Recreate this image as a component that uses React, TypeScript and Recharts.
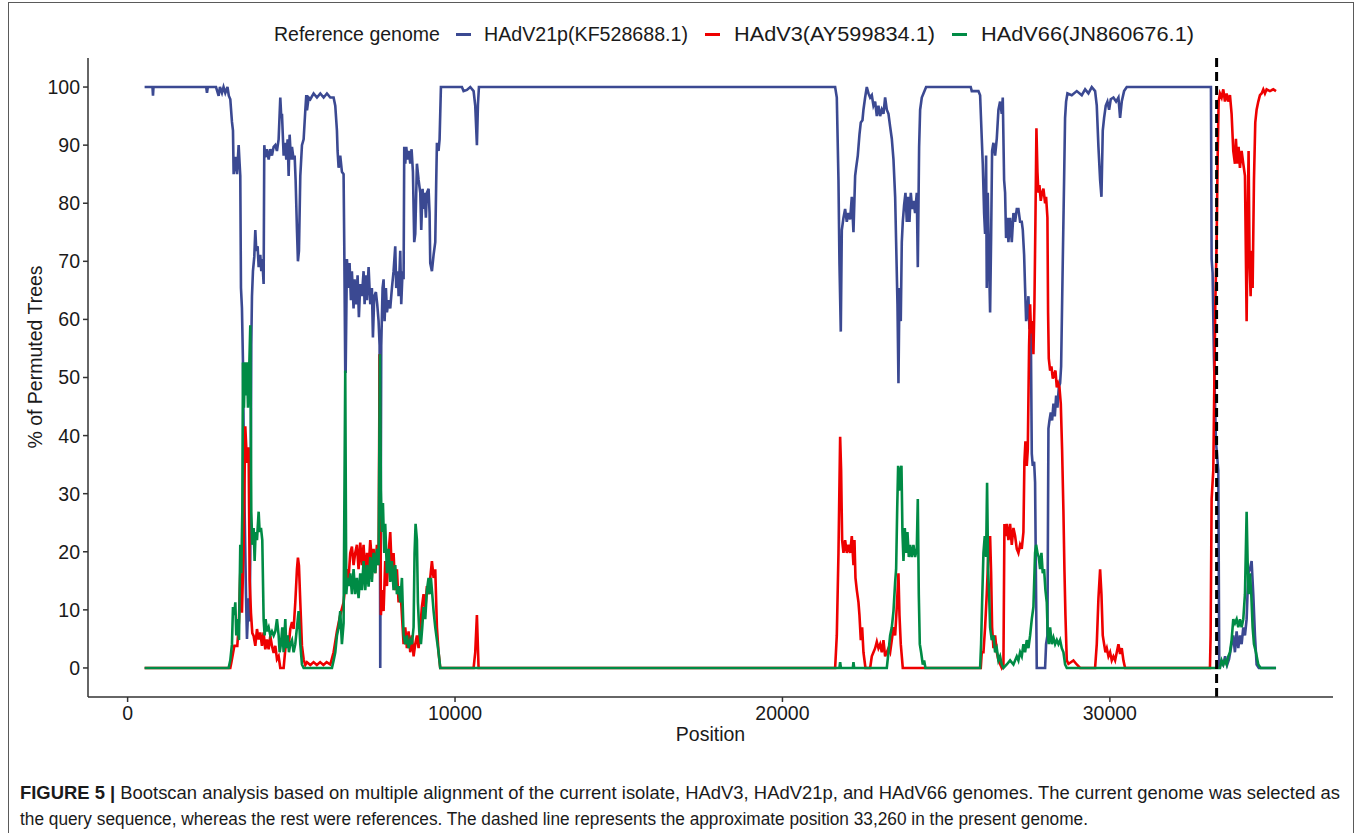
import React from "react";
import { LineChart, Line, XAxis, YAxis, ReferenceLine } from "recharts";

const blueX = [519,760,775,790,2400,2424,2450,2700,2780,2820,2882,2930,2984,3050,3090,3136,3187,3218,3238,3289,3340,3391,3421,3441,3462,3492,3523,3543,3574,3615,3645,3696,3727,3747,3767,3777,3798,3828,3869,3900,3930,3971,4002,4052,4083,4113,4154,4174,4205,4256,4307,4358,4409,4460,4510,4561,4612,4663,4694,4714,4745,4765,4816,4846,4887,4918,4948,4989,5020,5070,5101,5131,5172,5202,5233,5274,5325,5376,5427,5457,5478,5529,5580,5681,5783,5885,5987,6088,6190,6291,6342,6393,6413,6444,6494,6545,6596,6617,6647,6660,6698,6749,6779,6820,6850,6901,6932,6983,7024,7064,7105,7156,7207,7238,7278,7309,7360,7411,7461,7492,7533,7583,7624,7665,7696,7716,7746,7787,7818,7848,7889,7920,7970,8021,8072,8123,8174,8204,8255,8276,8327,8357,8398,8429,8449,8480,8510,8551,8591,8632,8673,8714,8754,8785,8836,8887,8938,8968,9009,9039,9070,9110,9141,9192,9222,9243,9294,9345,9396,9426,9447,9497,9528,9569,10210,10261,10363,10465,10567,10617,10668,10700,10730,21609,21660,21711,21741,21782,21813,21864,21914,21965,22016,22067,22118,22169,22220,22250,22301,22352,22393,22444,22474,22525,22576,22627,22678,22729,22780,22831,22882,22932,22983,23034,23085,23136,23187,23238,23289,23340,23391,23442,23472,23513,23543,23574,23614,23645,23675,23716,23757,23798,23838,23879,23920,23961,24001,24052,24103,24134,24174,24205,24256,24307,24388,25750,25782,25986,26037,26088,26118,26159,26189,26220,26240,26271,26301,26342,26373,26403,26444,26495,26546,26597,26647,26698,26729,26770,26800,26830,26871,26902,26953,27004,27055,27106,27157,27207,27258,27309,27340,27381,27411,27442,27482,27513,27543,27584,27615,27645,27686,27716,27767,28022,28052,28093,28124,28155,28195,28236,28277,28318,28359,28399,28440,28480,28511,28541,28571,28602,28632,28663,28704,28836,28989,29142,29244,29345,29447,29549,29600,29651,29702,29743,29783,29824,29875,29926,29977,30027,30109,30190,30262,30312,30363,30434,30516,33087,33108,33138,33179,33240,33311,33342,33400,33460,33520,33580,33640,33718,33769,33820,33871,33922,33973,34024,34075,34126,34177,34227,34278,34329,34380,34431,34482,34550,35075];
const blueY = [100,100,98.5,100,100,99,100,100,98.5,100,99,100,99,100,98.5,97.9,94,92.5,85,88,85,90,86.8,84.7,65.4,61.9,52.6,41.2,26.9,12.7,5,12,8,19.8,41,55.5,64,68.3,70.8,75.4,71.8,72.6,69,71.1,68.3,70.4,66.1,90,87.9,89.3,87.5,89.3,88.2,89.7,90,89,91,98.2,94.7,95.4,91,88.2,90.4,87.5,91,84.7,91.8,87.5,89.7,87.5,88.2,84,75.4,70,71.8,84.7,90,91,96,98.6,96,98.2,97.9,98.9,98.2,98.9,98.2,98.9,98.2,98.2,96.8,92.5,89,86.1,88.2,85.4,85,72.6,51,51,70.4,65.4,69.7,63.3,68.3,61.9,66.9,62.6,67.6,60.4,66.1,64,68.3,62.6,67.6,63.3,69,62.6,65.4,56.9,64,64.7,62.6,59.7,55.5,0,55.5,65.4,66.9,59.7,65.4,61.2,63.3,61.9,65.4,68.3,72.6,65.4,68.3,64,71.8,62.6,68.3,66.9,89.7,86.8,89.7,87.5,89,86.8,89.3,85.4,73.3,74.7,86.8,84,81.8,75.4,82.5,79,81.8,77.5,81.8,82.5,78.3,69.7,68.3,71.1,73.3,84,90.4,89,91,100,100,99.3,99.5,100,99.3,96.8,90,97,100,100,98.2,84,69.7,57.9,75.4,77.5,79,76.8,78.3,77.2,81.1,75,84.7,86.1,88.2,91.8,93.9,94.3,96.1,98.2,100,98.9,98.2,98.6,96.8,97.5,95,96.8,95,96.1,95.4,98.2,96.1,95.4,93.2,91.1,87.5,81.1,73.3,62.6,49,65.4,59.7,73.3,76.8,79.7,81.8,76.8,81.1,76.8,81.8,79,80.4,78.3,81.8,69,89.7,96.1,98.2,98.9,100,100,99.3,99.3,98.6,91.1,86.8,78.3,74.7,88.2,65.4,81.8,72.6,61.2,74,89,90.4,88.2,91.1,96.1,97.5,95.4,98.2,84,81.8,74,77.5,73.3,77.5,73.3,78.3,76.8,79,79,76.8,76.8,75.4,71.1,65.4,59.7,61.2,64,58.3,59.7,36.9,34.8,35.5,31.9,0,0,4.1,5.6,41.2,42.6,44,42.6,45.5,43.3,46.9,44.8,48.3,49,51.9,62.6,73.3,84,94.7,97.5,98.9,98.6,99.3,98.6,99.6,98.9,100,99.3,96.8,89.7,84,81.1,92.5,94.7,96.8,97.5,96.1,97.9,98.2,97.5,98.2,94.7,97.5,99.3,100,100,70.4,68,53.3,39,34,0,1,0.5,2,0.5,1.5,4.1,5.6,2.7,6.3,3.4,5.6,4.1,7,5.6,8.4,16.3,17,18.4,12.7,5.6,0.6,0,0];

const redX = [519,3136,3167,3260,3350,3400,3441,3492,3540,3594,3645,3696,3727,3767,3808,3849,3900,3951,4002,4052,4103,4154,4205,4256,4307,4358,4409,4460,4511,4562,4612,4663,4765,4816,4867,4918,4969,5020,5070,5121,5172,5202,5233,5274,5325,5376,5427,5478,5580,5680,5780,5880,5980,6080,6190,6291,6393,6494,6596,6647,6698,6749,6800,6851,6901,6952,7003,7054,7105,7156,7207,7258,7309,7360,7411,7461,7512,7563,7614,7665,7696,7736,7767,7818,7868,7920,7970,8021,8072,8123,8174,8225,8276,8327,8378,8429,8480,8530,8581,8632,8683,8734,8785,8836,8887,8938,8988,9039,9090,9141,9192,9243,9294,9345,9396,9447,9497,9548,10567,10617,10668,10719,21609,21660,21711,21762,21792,21823,21864,21914,21965,22016,22067,22118,22169,22200,22230,22271,22322,22352,22393,22434,22474,22535,22678,22729,22780,22831,22882,22932,22983,23034,23085,23136,23187,23238,23289,23340,23391,23442,23492,23543,23574,23614,23675,26057,26088,26139,26189,26240,26291,26342,26373,26403,26444,26495,26546,26597,26698,26749,26780,26820,26851,26902,26953,27004,27055,27106,27157,27207,27258,27309,27360,27390,27421,27462,27493,27533,27564,27594,27635,27665,27696,27726,27757,27788,27818,27849,27889,27930,27971,28022,28052,28093,28113,28134,28175,28215,28257,28297,28338,28379,28419,28460,28501,28541,28582,28612,28643,28684,28735,28786,28887,28989,29091,29549,29600,29651,29702,29743,29783,29824,29865,29906,29957,30007,30058,30109,30160,30211,30262,30312,30363,30414,30465,33057,33077,33108,33159,33189,33220,33261,33291,33322,33362,33413,33464,33515,33566,33617,33668,33718,33769,33820,33850,33891,33932,33973,34024,34075,34126,34177,34207,34237,34268,34299,34329,34360,34401,34441,34482,34533,34584,34635,34686,34736,34787,34889,34991,35075];
const redY = [0,0,0.9,3.8,3.8,8,16.4,9.5,20,41.6,35.3,38,15.2,9.5,6,5.5,3.8,6.7,4.9,6.1,3.8,6.1,3.2,4.9,3.2,5.5,3.8,2.6,3.8,1.5,2,0,0,3.2,5.5,3.8,6.7,7.9,6.7,11.3,17,19,17.6,11.3,3.8,1.5,0.5,1,0.5,1,0.5,1,0.5,1,0.6,2.7,6.3,9.1,11.3,14.1,17,15.5,19.8,20.9,17.7,19.8,21.2,17,21.6,17.7,21.2,15.5,19.8,17,22,18.4,20.5,16.3,21.2,17.7,54,9.1,13.4,9.8,18.4,14.1,19.8,23.4,16.3,19.8,13.4,17,11.3,14.1,9.1,4.1,7,3.4,6.3,2.7,5.6,2,4.1,5.6,3.4,7,10.5,12.7,9.8,14.1,12.7,15.5,18.4,15.5,17,7,2.7,0,0,2.7,9.1,0,0,5.6,19.8,39.8,34,22,19.8,22,19.8,21.2,19.8,22.7,17.7,22,15.5,13.4,11.3,9.1,4.8,7,2.7,0,0,2,2.7,3.4,4.5,3.4,4.1,2.7,4.8,2,2.7,3.4,2.7,4.8,7,5.6,10.5,16.3,9.1,4.1,0,0,2.7,2.7,7,12.7,19.8,22.7,16.3,7,3.4,5.6,2.7,1.3,0,0.6,24.8,22.7,24.8,22,24.8,21.2,24.1,22.7,20.5,19.8,21.2,20.5,23.4,35.5,39,34.8,37.6,55.5,62.6,57.6,59.7,54,62.6,76.8,92.9,85.4,81.8,83.1,80.4,81.8,82.5,80,81.1,77.5,61.2,53.3,51.2,51.9,49.8,50.5,51.2,48.3,49,48.3,45.5,37.6,26.9,17,9.1,1.3,0.7,0.9,1.3,0.6,0,0,4.1,12,17,12.7,5.6,4.1,2.7,3.4,2,2.7,1.3,2,1.3,2.7,4.1,2.4,3.4,1.3,0,0,5.6,29.1,34,48.3,62.6,73.3,87.5,97.5,98.9,98.2,99.6,97.5,98.9,97.5,98.6,95.4,89,86.8,91.1,86.8,89.7,86.1,89,86.8,84.7,59.7,76.8,89,69.7,64,71.8,65.4,84,93.9,96.1,97.5,98.6,98.9,99.6,98.9,99.6,99.3,99.6,99.3];

const greenX = [519,3085,3136,3187,3218,3258,3289,3319,3360,3401,3441,3472,3503,3523,3553,3584,3615,3645,3676,3706,3747,3777,3808,3849,3879,3910,3951,4002,4032,4073,4113,4154,4185,4215,4256,4307,4358,4409,4460,4510,4561,4612,4643,4684,4724,4765,4816,4846,4887,4928,4968,5020,5070,5121,5172,5223,5274,5325,5376,6241,6292,6343,6394,6445,6494,6545,6596,6647,6678,6718,6759,6800,6851,6901,6952,7003,7054,7105,7156,7207,7258,7309,7360,7411,7461,7512,7563,7614,7665,7706,7736,7767,7798,7838,7868,7920,7970,8021,8072,8123,8174,8225,8276,8327,8378,8429,8480,8530,8581,8632,8683,8734,8764,8795,8836,8866,8907,8958,8999,9039,9090,9141,9192,9222,9263,9304,9345,9396,9447,9497,9548,21740,21762,21785,22150,22169,22190,23187,23238,23289,23340,23391,23442,23472,23503,23533,23564,23594,23635,23665,23696,23737,23777,23818,23859,23900,23950,24001,24052,24103,24134,24164,24195,24235,24286,24327,24368,26037,26067,26098,26139,26179,26220,26250,26281,26312,26342,26393,26444,26495,26546,26597,26647,26698,26749,26851,26953,27055,27157,27207,27258,27309,27360,27411,27462,27513,27564,27615,27665,27716,27747,27788,27828,27869,27910,27950,27991,28032,28073,28103,28134,28175,28226,28277,28328,28379,28429,28480,28531,28582,28633,28684,33362,33413,33464,33515,33566,33617,33668,33718,33769,33820,33871,33922,33973,34024,34075,34126,34177,34207,34237,34278,34319,34360,34401,34461,34533,34604,35075];
const greenY = [0,0,1.3,4.1,10.5,9.1,11.3,5.6,8.4,4.8,21.2,16.3,26.9,52.6,44.8,52.6,46.9,52.6,44.8,49.8,59,26.9,21.2,24.1,18.4,23.4,22,26.9,23.4,24.1,22,8.4,5.6,8.4,6.3,7,5.6,6.3,5.6,6.3,8.4,5.6,2.7,4.1,7,2.7,8.4,3.4,5.6,2.7,4.1,4.8,2.7,4.1,7,9.8,4.1,0.6,0,0,1.3,2.7,5.6,7,9.8,4.1,7.7,51.2,12.7,15.5,14.1,16.3,12.7,17,12.7,15.5,12,16.3,13.4,18.4,13.4,17.7,14,19.1,14.8,19.8,16.3,20.5,17.7,54,30.5,23.4,28.4,19.8,24.8,16.3,20.5,14.8,18.4,13.4,17.7,12.7,14.1,11.3,15.5,5.6,4.1,5.6,3.4,4.8,4.1,7,19.8,24.8,22,11.3,6.3,4.1,7,10.5,8.4,13.4,15.5,12.7,15.5,12.7,9.8,7,4.8,2.7,0,0,1,0,0,1,0,0,2.7,5.6,7,9.8,14.8,17,26.9,34.8,30.5,34,34.8,23.4,18.4,24.1,19.8,23.4,19.1,21.2,19.1,21.2,19.1,20.5,29.1,12.7,4.1,2.7,0.6,1.3,0,0,4.1,11.3,19.8,22.7,19.1,31.9,17,12.7,7,4.8,5.6,2.7,3.4,1.3,2,0.6,0,0.6,1.3,0.6,2,1.3,2.7,2,4.1,2.7,4.8,3.4,5.6,8.4,10.5,19.8,21.2,19.8,19.1,17,19.8,16.3,17,13.4,11.3,5.6,4.1,7,4.1,5.2,4.1,4.8,4.1,4.8,3.4,2.7,0.6,0,0,1.3,0.6,1.3,0.6,2,2.7,4.8,8.4,7.7,8.4,7,8.4,7,8.4,12.7,26.9,18.4,12.7,16.3,12.7,7,4.1,2.7,0.6,0,0];

const xTicks = [0, 10000, 20000, 30000];
const yTicks = [0, 10, 20, 30, 40, 50, 60, 70, 80, 90, 100];
const breakpoint = 33260;

const legendTitle = "Reference genome";
const seriesNames = ["HAdV21p(KF528688.1)", "HAdV3(AY599834.1)", "HAdV66(JN860676.1)"];
const seriesColors = ["#3B4992", "#EE0000", "#008B45"];

const zip = (xs: number[], ys: number[]) => xs.map((x, i) => ({ x, y: ys[i] }));
const blueData = zip(blueX, blueY);
const redData = zip(redX, redY);
const greenData = zip(greenX, greenY);

const FONT = "'Liberation Sans', Arial, Helvetica, sans-serif";
const TXT = "#1a1a1a";

export default function App() {
  const keyX = [456, 705, 952];
  const labelX = [484, 734, 981];
  const labelW = [204, 201, 213];
  return (
    <div style={{ position: "relative", width: 1357, height: 833, background: "#fff", overflow: "hidden", fontFamily: FONT }}>
      <style>{`body{margin:0;background:#fff}`}</style>
      <div style={{ position: "absolute", left: 8, top: 2, width: 1346, height: 900, border: "1.5px solid #5a5a5a", boxSizing: "border-box" }} />
      <svg width={1357} height={56} style={{ position: "absolute", left: 0, top: 0 }}>
        <text x={274} y={41} fontSize={19.5} fill={TXT} fontFamily={FONT}>{legendTitle}</text>
        {seriesNames.map((n, i) => (
          <g key={n}>
            <line x1={keyX[i]} x2={keyX[i] + 15} y1={34.5} y2={34.5} stroke={seriesColors[i]} strokeWidth={3} />
            <text x={labelX[i]} y={41} fontSize={19.5} fill={TXT} fontFamily={FONT} textLength={labelW[i]} lengthAdjust="spacingAndGlyphs">{n}</text>
          </g>
        ))}
      </svg>
      <div style={{ position: "absolute", left: 0, top: 0 }}>
        <LineChart width={1357} height={760} margin={{ top: 58, right: 24, left: 28, bottom: 3 }}>
          <XAxis
            type="number"
            dataKey="x"
            domain={[-1210, 36815]}
            ticks={xTicks}
            allowDataOverflow
            height={60}
            stroke="#333"
            strokeWidth={1.5}
            tickSize={5}
            tickMargin={4}
            tick={{ fill: TXT, fontSize: 19.5, fontFamily: FONT }}
            label={{
              content: (p: any) => {
                const vb = p.viewBox || {};
                return (
                  <text x={vb.x + vb.width / 2} y={741} textAnchor="middle" fill={TXT} fontSize={19.5} fontFamily={FONT}>
                    Position
                  </text>
                );
              },
            }}
          />
          <YAxis
            type="number"
            domain={[-5, 105]}
            ticks={yTicks}
            allowDataOverflow
            width={60}
            stroke="#333"
            strokeWidth={1.5}
            tickSize={5}
            tickMargin={3}
            tick={{ fill: TXT, fontSize: 19.5, fontFamily: FONT }}
            label={{
              content: () => (
                <text x={35} y={357} transform="rotate(-90 35 357)" textAnchor="middle" dominantBaseline="central" fill={TXT} fontSize={19.5} fontFamily={FONT}>
                  % of Permuted Trees
                </text>
              ),
            }}
          />
          <Line data={blueData} dataKey="y" type="linear" stroke={seriesColors[0]} strokeWidth={2.6} dot={false} isAnimationActive={false} />
          <Line data={redData} dataKey="y" type="linear" stroke={seriesColors[1]} strokeWidth={2.6} dot={false} isAnimationActive={false} />
          <Line data={greenData} dataKey="y" type="linear" stroke={seriesColors[2]} strokeWidth={2.6} dot={false} isAnimationActive={false} />
          <ReferenceLine x={breakpoint} stroke="#000" strokeWidth={3} strokeDasharray="9 5" />
        </LineChart>
      </div>
      <svg width={1357} height={80} style={{ position: "absolute", left: 0, top: 760 }}>
        <text x={20} y={39} fontSize={17.5} fill={TXT} fontFamily={FONT} textLength={1320} lengthAdjust="spacingAndGlyphs">
          <tspan fontWeight="bold">FIGURE 5 |</tspan>
          <tspan> Bootscan analysis based on multiple alignment of the current isolate, HAdV3, HAdV21p, and HAdV66 genomes. The current genome was selected as</tspan>
        </text>
        <text x={20} y={65} fontSize={17.5} fill={TXT} fontFamily={FONT} textLength={1068} lengthAdjust="spacingAndGlyphs">
          the query sequence, whereas the rest were references. The dashed line represents the approximate position 33,260 in the present genome.
        </text>
      </svg>
    </div>
  );
}
